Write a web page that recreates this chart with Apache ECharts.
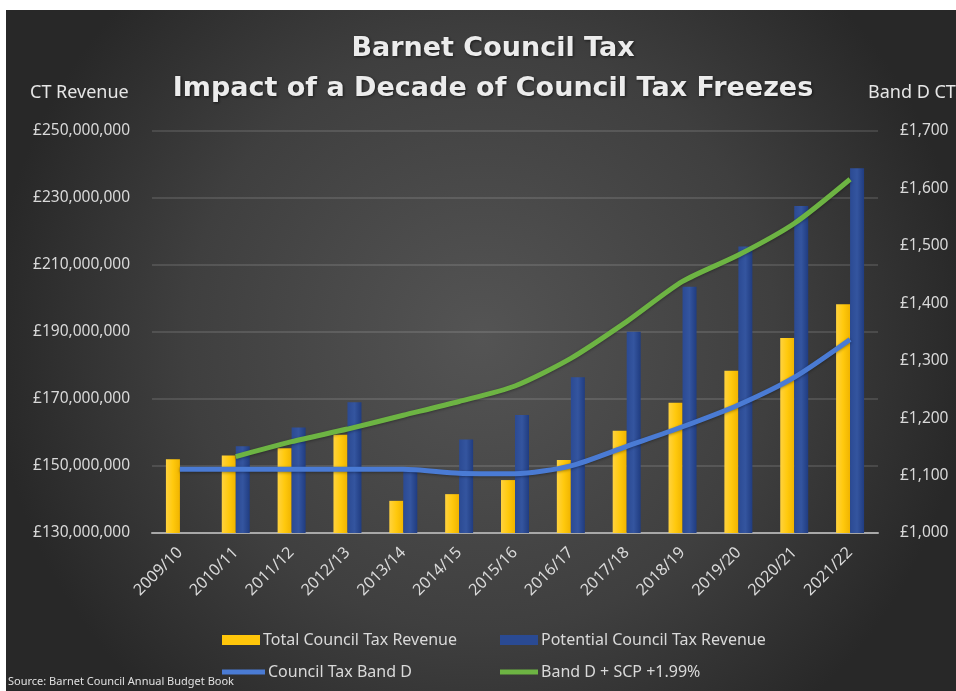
<!DOCTYPE html>
<html>
<head>
<meta charset="utf-8">
<script src="https://cdn.jsdelivr.net/npm/echarts@6/dist/echarts.min.js"></script>
<style>
html,body{margin:0;padding:0;background:#ffffff;}
#main{width:956px;height:691px;}
</style>
</head>
<body>
<div id="main"></div>
<script>
// ---- data ----
const categories = ['2009/10','2010/11','2011/12','2012/13','2013/14','2014/15','2015/16','2016/17','2017/18','2018/19','2019/20','2020/21','2021/22'];
const totalRevenue = [152.0e6,153.1e6,155.3e6,159.3e6,139.6e6,141.6e6,145.8e6,151.8e6,160.5e6,168.9e6,178.4e6,188.2e6,198.3e6];
const potentialRevenue = [null,155.9e6,161.5e6,169.0e6,149.5e6,157.9e6,165.2e6,176.5e6,190.1e6,203.5e6,215.5e6,227.6e6,238.9e6];
const bandD = [1111,1111,1111,1111,1111,1104,1103,1117,1151,1185,1223,1271,1337];
const bandDSCP = [null,1133,1159,1181,1205,1229,1256,1304,1368,1438,1484,1539,1616];
const leftTicks = {min:130e6, max:250e6, interval:20e6};
const rightTicks = {min:1000, max:1700, interval:100};

const FONT = 'Noto Sans';
const txt = '#d9d9d9';

function money(v){ return '£' + Math.round(v).toString().replace(/\B(?=(\d{3})+(?!\d))/g, ','); }

const chart = echarts.init(document.getElementById('main'), null, {renderer:'canvas'});
const legendBase = {
  orient:'horizontal', itemWidth:38, itemGap:10,
  textStyle:{color:txt, fontFamily:FONT, fontSize:16, padding:[0,0,0,-2]},
  icon:'rect', selectedMode:false
};
chart.setOption({
  animation:false,
  backgroundColor:'#ffffff',
  graphic:[
    {type:'rect', z:-100, shape:{x:6,y:10,width:950,height:681},
     style:{fill:{type:'radial', x:0.5, y:0.48, r:0.72, colorStops:[{offset:0,color:'#545454'},{offset:0.6,color:'#3f3f3f'},{offset:1,color:'#282828'}]}}},
    {type:'text', left:30, top:84, style:{text:'CT Revenue', fill:'#e6e6e6', font:'18px "Noto Sans"'}},
    {type:'text', left:868, top:84, style:{text:'Band D CT', fill:'#e6e6e6', font:'18px "Noto Sans"'}},
    {type:'text', left:8, top:676, style:{text:'Source: Barnet Council Annual Budget Book', fill:'#e0e0e0', font:'11px "Noto Sans"'}}
  ],
  title:{
    text:'Barnet Council Tax\nImpact of a Decade of Council Tax Freezes',
    left:488, top:24, textAlign:'center',
    textStyle:{color:'#ececec', fontFamily:'DejaVu Sans', fontWeight:'bold', fontSize:27, lineHeight:40,
      textShadowColor:'rgba(0,0,0,0.6)', textShadowBlur:3, textShadowOffsetX:1, textShadowOffsetY:1}
  },
  legend:[
    Object.assign({}, legendBase, {left:217, top:627, itemHeight:10, data:[{name:'Total Council Tax Revenue', itemStyle:{color:'#ffc60a'}}]}),
    Object.assign({}, legendBase, {left:495, top:627, itemHeight:10, data:[{name:'Potential Council Tax Revenue', itemStyle:{color:'#2a4a93'}}]}),
    Object.assign({}, legendBase, {left:217, top:659, itemHeight:5, itemWidth:43, data:['Council Tax Band D']}),
    Object.assign({}, legendBase, {left:495, top:659, itemHeight:5, data:['Band D + SCP +1.99%']})
  ],
  grid:{left:152, right:78, top:131, bottom:158, containLabel:false},
  xAxis:{
    type:'category', data:categories,
    axisLine:{lineStyle:{color:'#a8a8a8', width:2}},
    axisTick:{show:false},
    axisLabel:{rotate:45, color:txt, fontFamily:FONT, fontSize:16, margin:17, interval:0}
  },
  yAxis:[
    {type:'value', min:leftTicks.min, max:leftTicks.max, interval:leftTicks.interval,
     axisLine:{show:false}, axisTick:{show:false},
     axisLabel:{formatter:money, color:txt, fontFamily:FONT, fontSize:15.5, margin:22},
     splitLine:{lineStyle:{color:'rgba(255,255,255,0.16)', width:1.5}}},
    {type:'value', position:'right', min:rightTicks.min, max:rightTicks.max, interval:rightTicks.interval,
     axisLine:{show:false}, axisTick:{show:false},
     axisLabel:{formatter:money, color:txt, fontFamily:FONT, fontSize:15.5, margin:22},
     splitLine:{show:false}}
  ],
  series:[
    {name:'Total Council Tax Revenue', type:'bar', yAxisIndex:0, data:totalRevenue, barWidth:14, barGap:'0%',
     itemStyle:{color:{type:'linear',x:0,y:0,x2:1,y2:0,colorStops:[{offset:0,color:'#ffd23f'},{offset:0.5,color:'#ffc90d'},{offset:1,color:'#f0b400'}]}}},
    {name:'Potential Council Tax Revenue', type:'bar', yAxisIndex:0, data:potentialRevenue, barWidth:14, barGap:'0%',
     itemStyle:{color:{type:'linear',x:0,y:0,x2:1,y2:0,colorStops:[{offset:0,color:'#2b4a93'},{offset:0.5,color:'#34559f'},{offset:1,color:'#203c80'}]}}},
    {name:'Council Tax Band D', type:'line', yAxisIndex:1, data:bandD, smooth:0.25, symbol:'none', z:5,
     itemStyle:{color:'#4a7bd4'},
     lineStyle:{color:'#4a7bd4', width:5, shadowColor:'rgba(0,0,0,0.35)', shadowBlur:3, shadowOffsetY:1}},
    {name:'Band D + SCP +1.99%', type:'line', yAxisIndex:1, data:bandDSCP, smooth:0.25, symbol:'none', z:5,
     itemStyle:{color:'#6db443'},
     lineStyle:{color:'#6db443', width:5, shadowColor:'rgba(0,0,0,0.35)', shadowBlur:3, shadowOffsetY:1}}
  ]
});
</script>
</body>
</html>
